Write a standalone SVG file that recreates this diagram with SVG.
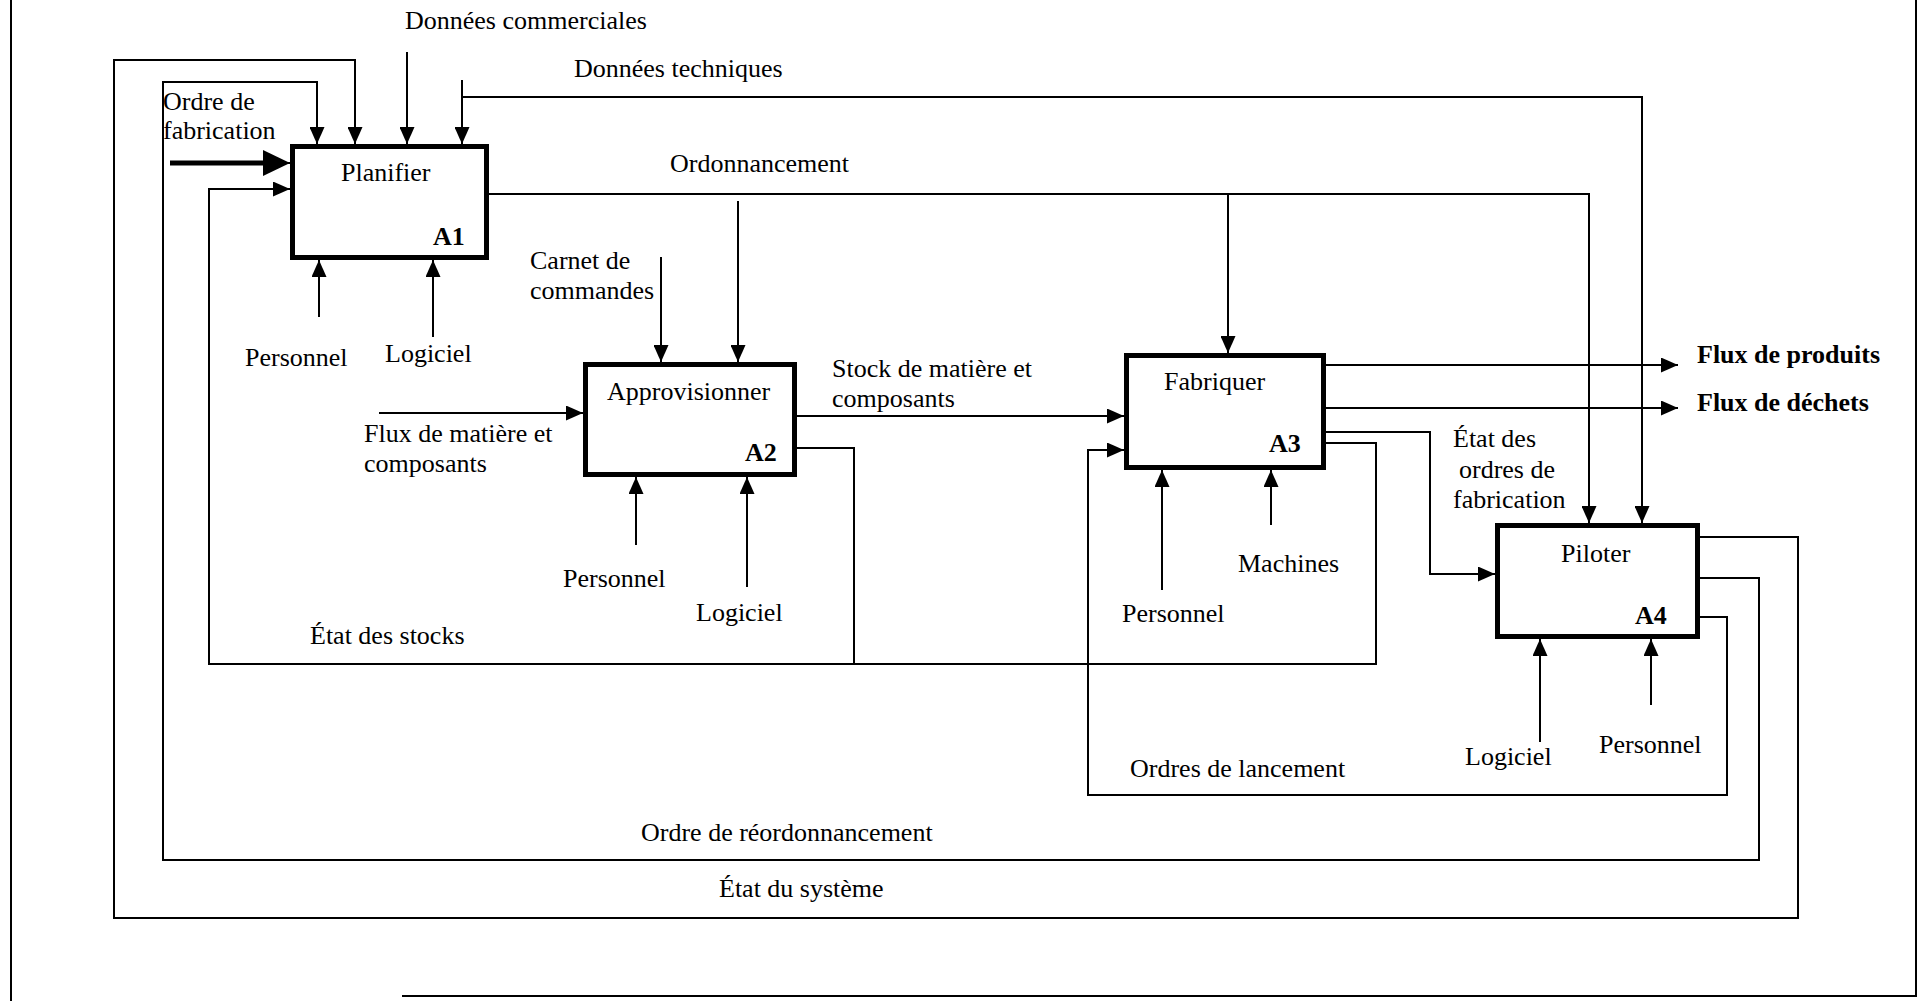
<svg xmlns="http://www.w3.org/2000/svg" width="1925" height="1001" viewBox="0 0 1925 1001">
<defs>
<style>
.t{font-family:"Liberation Serif","Times New Roman",serif;font-size:26px;fill:#000}
.b{font-weight:bold}
.box{fill:#fff;stroke:#000;stroke-width:5}
.c{fill:none;stroke:#000;stroke-width:2}
.arr{marker-end:url(#ah)}
</style>
<marker id="ah" markerUnits="userSpaceOnUse" markerWidth="17" markerHeight="15" refX="17" refY="7.5" orient="auto"><path d="M0,0 L17,7.5 L0,15 z" fill="#000"/></marker>
<marker id="ahb" markerUnits="userSpaceOnUse" markerWidth="27" markerHeight="26" refX="27" refY="13" orient="auto"><path d="M0,0 L27,13 L0,26 z" fill="#000"/></marker>
</defs>
<rect width="1925" height="1001" fill="#fff"/>
<g id="frame" class="c"><path d="M11,0 V1001"/><path d="M1916,0 V996 H402"/></g>
<g id="connectors">
<path class="c" d="M170,163 H268" style="stroke-width:5"/>
<path class="c" d="M250,163 H290" marker-end="url(#ahb)"/>
<path class="c arr" d="M797,448 H854 V664 M1326,443 H1376 V664 H209 V189 H290"/>
<path class="c arr" d="M1700,537 H1798 V918 H114 V60 H355 V144"/>
<path class="c arr" d="M1700,578 H1759 V860 H163 V82 H317 V144"/>
<path class="c arr" d="M1700,617 H1727 V795 H1088 V450 H1124"/>
<path class="c arr" d="M407,52 V144"/>
<path class="c arr" d="M462,80 V144"/>
<path class="c arr" d="M462,97 H1642 V523"/>
<path class="c arr" d="M489,194 H1589 V523"/>
<path class="c arr" d="M1228,194 V353"/>
<path class="c arr" d="M738,201 V362"/>
<path class="c arr" d="M661,257 V362"/>
<path class="c arr" d="M379,413 H583"/>
<path class="c arr" d="M797,416 H1124"/>
<path class="c arr" d="M1326,365 H1678"/>
<path class="c arr" d="M1326,408 H1678"/>
<path class="c arr" d="M1326,432 H1430 V574 H1495"/>
<path class="c arr" d="M319,317 V260"/>
<path class="c arr" d="M433,337 V260"/>
<path class="c arr" d="M636,545 V477"/>
<path class="c arr" d="M747,587 V477"/>
<path class="c arr" d="M1162,590 V470"/>
<path class="c arr" d="M1271,525 V470"/>
<path class="c arr" d="M1540,742 V639"/>
<path class="c arr" d="M1651,705 V639"/>
</g>
<g id="A1"><rect class="box" x="292.5" y="146.5" width="194" height="111"/><text class="t" x="341" y="181">Planifier</text><text class="t b" x="433" y="245">A1</text></g>
<g id="A2"><rect class="box" x="585.5" y="364.5" width="209" height="110"/><text class="t" x="607" y="400">Approvisionner</text><text class="t b" x="745" y="461">A2</text></g>
<g id="A3"><rect class="box" x="1126.5" y="355.5" width="197" height="112"/><text class="t" x="1164" y="390">Fabriquer</text><text class="t b" x="1269" y="452">A3</text></g>
<g id="A4"><rect class="box" x="1497.5" y="525.5" width="200" height="111"/><text class="t" x="1561" y="562">Piloter</text><text class="t b" x="1635" y="624">A4</text></g>
<g id="labels">
<text class="t" x="405" y="29">Données commerciales</text>
<text class="t" x="574" y="77">Données techniques</text>
<text class="t" x="163" y="110">Ordre de</text>
<text class="t" x="163" y="139">fabrication</text>
<text class="t" x="670" y="172">Ordonnancement</text>
<text class="t" x="530" y="269">Carnet de</text>
<text class="t" x="530" y="299">commandes</text>
<text class="t" x="245" y="366">Personnel</text>
<text class="t" x="385" y="362">Logiciel</text>
<text class="t" x="364" y="442">Flux de matière et</text>
<text class="t" x="364" y="472">composants</text>
<text class="t" x="832" y="377">Stock de matière et</text>
<text class="t" x="832" y="407">composants</text>
<text class="t" x="563" y="587">Personnel</text>
<text class="t" x="696" y="621">Logiciel</text>
<text class="t" x="310" y="644">État des stocks</text>
<text class="t" x="1238" y="572">Machines</text>
<text class="t" x="1122" y="622">Personnel</text>
<text class="t b" x="1697" y="363">Flux de produits</text>
<text class="t b" x="1697" y="411">Flux de déchets</text>
<text class="t" x="1453" y="447">État des</text>
<text class="t" x="1459" y="478">ordres de</text>
<text class="t" x="1453" y="508">fabrication</text>
<text class="t" x="1465" y="765">Logiciel</text>
<text class="t" x="1599" y="753">Personnel</text>
<text class="t" x="1130" y="777">Ordres de lancement</text>
<text class="t" x="641" y="841">Ordre de réordonnancement</text>
<text class="t" x="719" y="897">État du système</text>
</g>
</svg>
